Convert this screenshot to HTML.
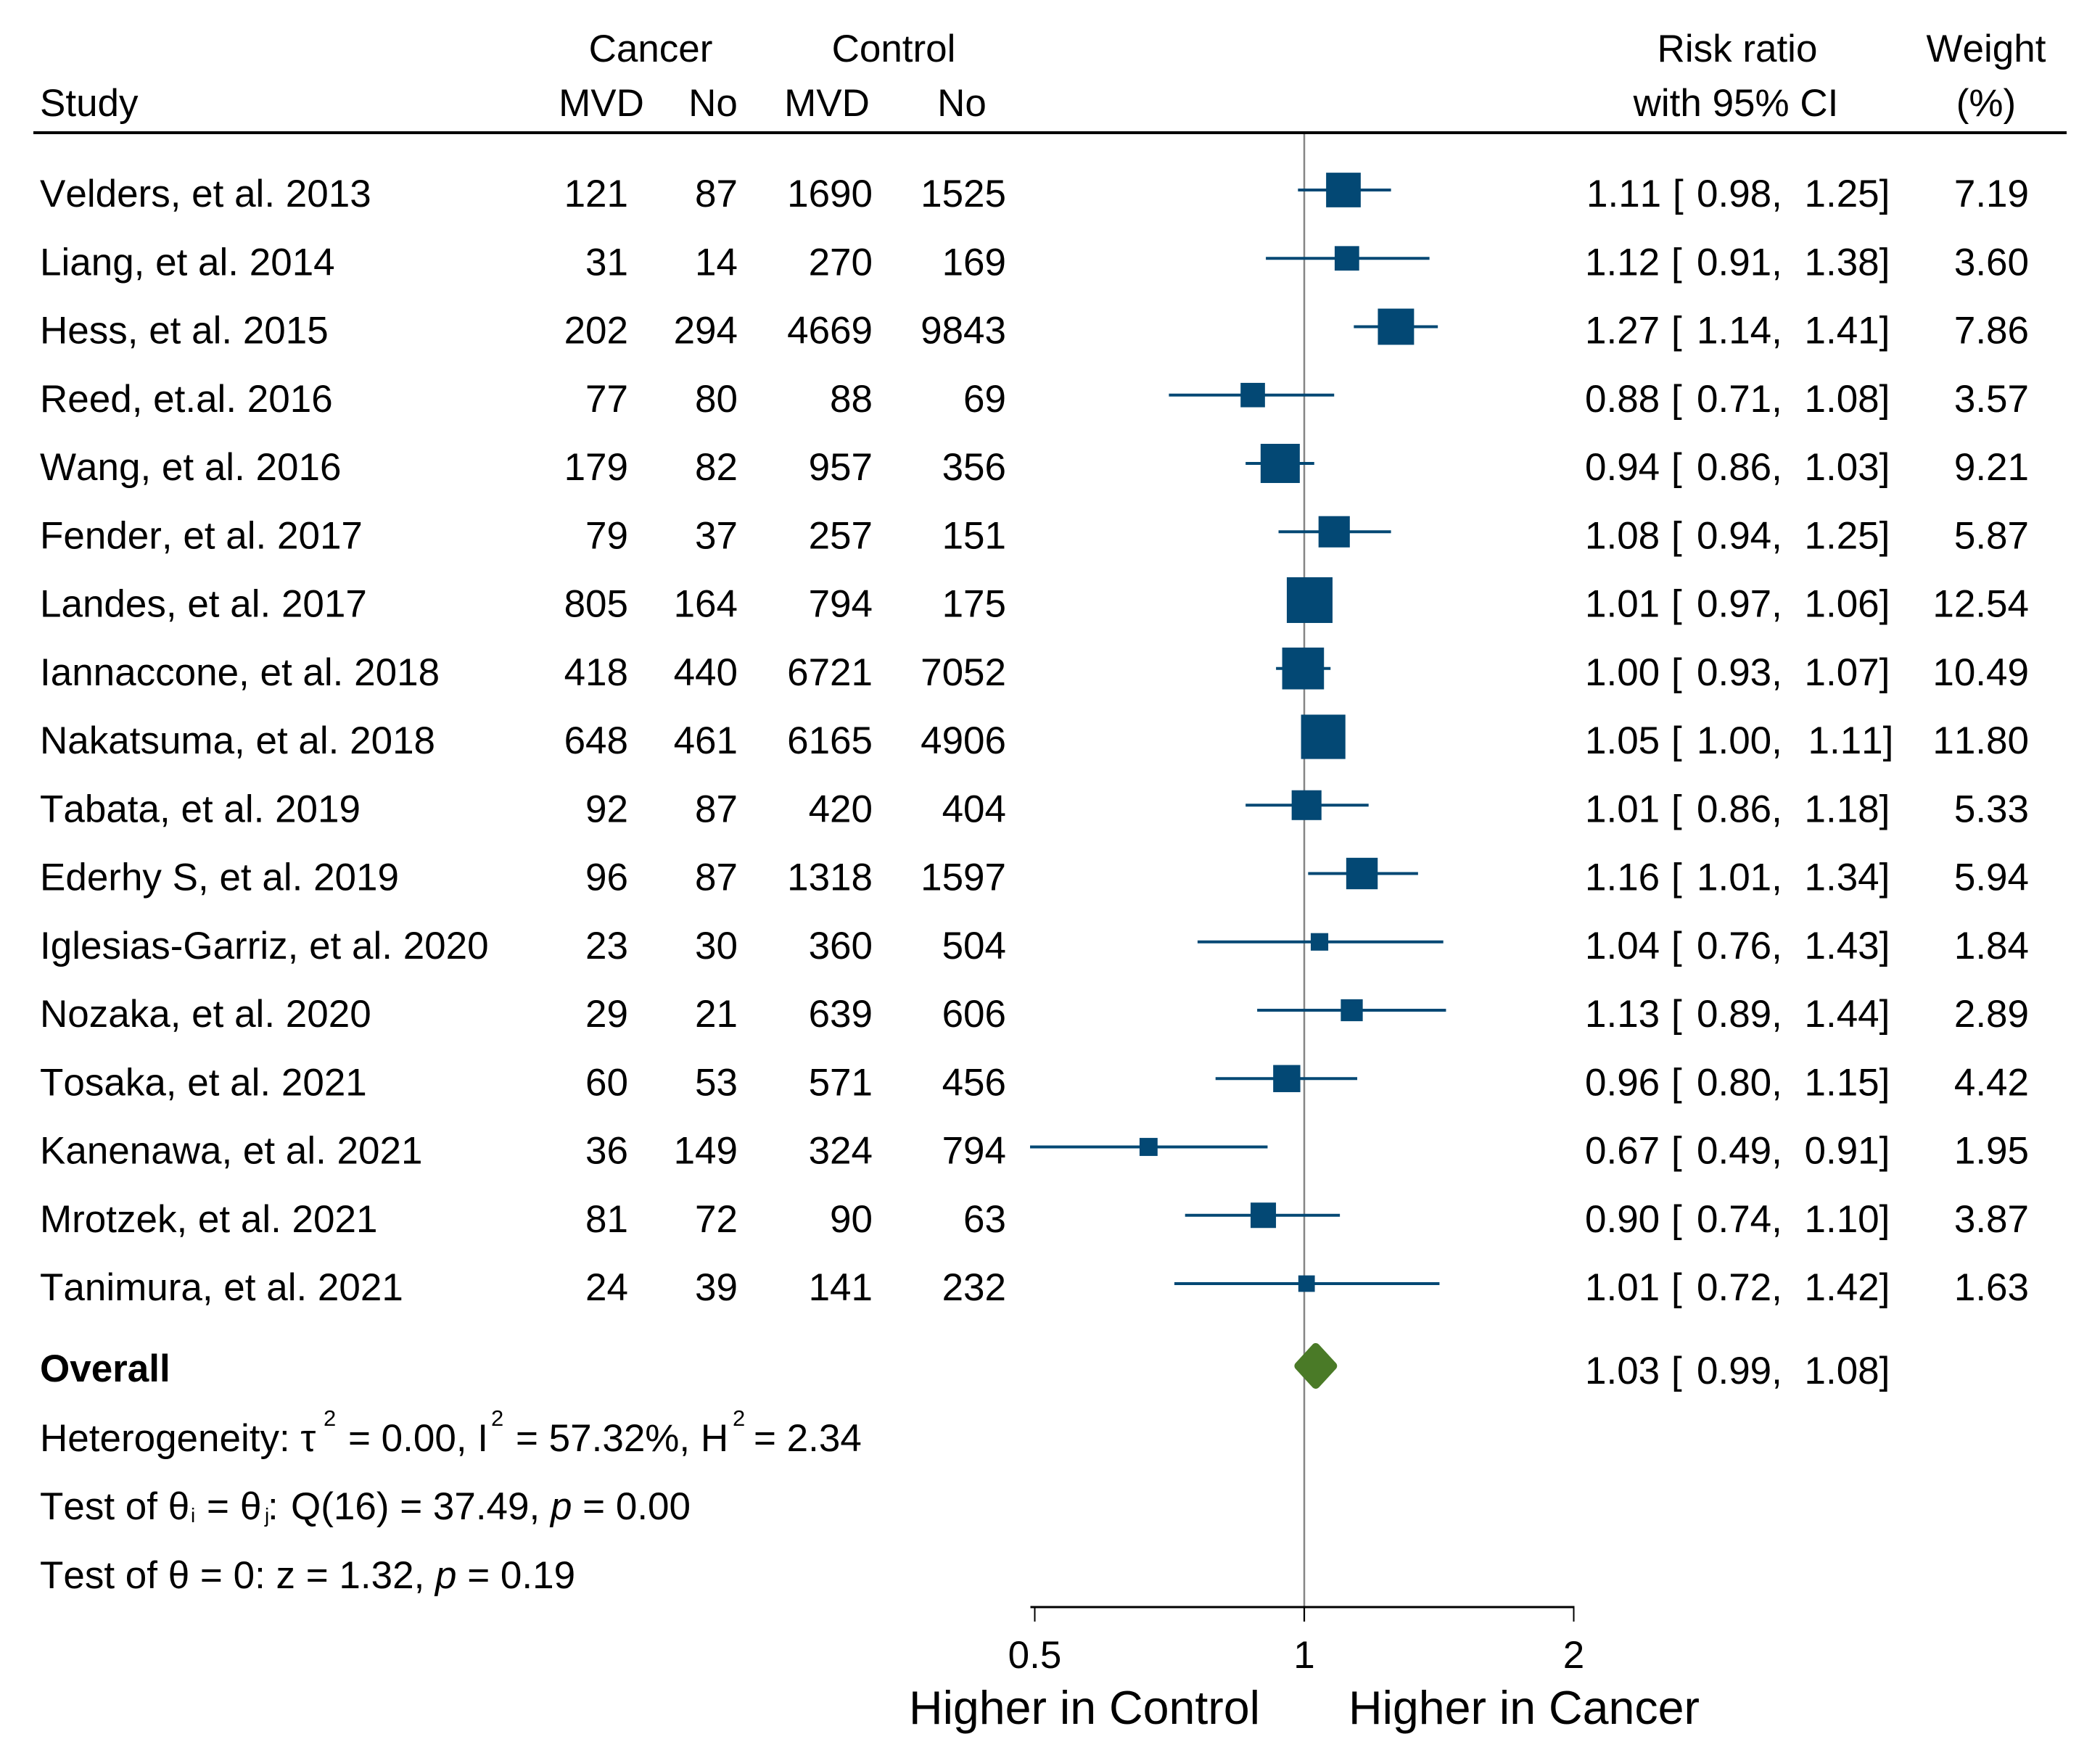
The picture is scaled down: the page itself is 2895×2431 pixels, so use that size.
<!DOCTYPE html>
<html lang="en">
<head>
<meta charset="utf-8">
<title>Forest plot: MVD in cancer vs control</title>
<style>
html,body{margin:0;padding:0;background:#fff;}
svg{display:block;}
text{font-family:"Liberation Sans",Arial,sans-serif;font-size:53px;fill:#000;white-space:pre;font-kerning:none;}
</style>
</head>
<body>
<svg id="forest" xmlns="http://www.w3.org/2000/svg" width="2895" height="2431" viewBox="0 0 2895 2431">
  <rect x="0" y="0" width="2895" height="2431" fill="#ffffff"/>
  <text x="897" y="85" text-anchor="middle">Cancer</text>
  <text x="1232" y="85" text-anchor="middle">Control</text>
  <text x="2395" y="85" text-anchor="middle">Risk ratio</text>
  <text x="2738" y="85" text-anchor="middle">Weight</text>
  <text x="55" y="160">Study</text>
  <text x="829" y="160" text-anchor="middle">MVD</text>
  <text x="983" y="160" text-anchor="middle">No</text>
  <text x="1140" y="160" text-anchor="middle">MVD</text>
  <text x="1326" y="160" text-anchor="middle">No</text>
  <text x="2393" y="160" text-anchor="middle">with 95% CI</text>
  <text x="2738" y="160" text-anchor="middle">(%)</text>
  <rect x="46" y="181" width="2803" height="4" fill="#000"/>
  <text x="55" y="1905" style="font-weight:700">Overall</text>
  <text y="2001"><tspan x="55">Heterogeneity: τ</tspan><tspan x="446" y="1966" style="font-size:31px">2</tspan><tspan x="480" y="2001">= 0.00, I</tspan><tspan x="677" y="1966" style="font-size:31px">2</tspan><tspan x="711" y="2001">= 57.32%, H</tspan><tspan x="1010" y="1966" style="font-size:31px">2</tspan><tspan x="1039" y="2001">= 2.34</tspan></text>
  <text y="2095"><tspan x="55">Test of θ</tspan><tspan x="263" y="2099" style="font-size:28px">i</tspan><tspan x="285" y="2095">=</tspan><tspan x="331" y="2095">θ</tspan><tspan x="365" y="2099" style="font-size:28px">j</tspan><tspan x="369" y="2095">:</tspan><tspan x="401" y="2095">Q(16) = 37.49, </tspan><tspan style="font-style:italic">p</tspan><tspan> = 0.00</tspan></text>
  <text y="2190" x="55">Test of θ = 0: z = 1.32, <tspan style="font-style:italic">p</tspan> = 0.19</text>
  <text x="1495" y="2377" text-anchor="middle" style="font-size:64.5px">Higher in Control</text>
  <text x="2101" y="2377" text-anchor="middle" style="font-size:64.5px">Higher in Cancer</text>
</svg>
<script>
const studies = ["Velders, et al. 2013","Liang, et al. 2014","Hess, et al. 2015","Reed, et.al. 2016","Wang, et al. 2016","Fender, et al. 2017","Landes, et al. 2017","Iannaccone, et al. 2018","Nakatsuma, et al. 2018","Tabata, et al. 2019","Ederhy S, et al. 2019","Iglesias-Garriz, et al. 2020","Nozaka, et al. 2020","Tosaka, et al. 2021","Kanenawa, et al. 2021","Mrotzek, et al. 2021","Tanimura, et al. 2021"];
const cancerMvd = [121,31,202,77,179,79,805,418,648,92,96,23,29,60,36,81,24];
const cancerNo = [87,14,294,80,82,37,164,440,461,87,87,30,21,53,149,72,39];
const controlMvd = [1690,270,4669,88,957,257,794,6721,6165,420,1318,360,639,571,324,90,141];
const controlNo = [1525,169,9843,69,356,151,175,7052,4906,404,1597,504,606,456,794,63,232];
const riskRatio = [1.106,1.116,1.266,0.876,0.94,1.08,1.014,0.997,1.05,1.006,1.16,1.04,1.13,0.956,0.67,0.90,1.006];
const ciLow = [0.984,0.906,1.136,0.706,0.86,0.936,0.97,0.93,1.00,0.86,1.01,0.76,0.886,0.796,0.494,0.736,0.716];
const ciHigh = [1.25,1.38,1.41,1.08,1.026,1.25,1.06,1.07,1.11,1.18,1.34,1.43,1.44,1.146,0.91,1.096,1.416];
const weights = [7.19,3.60,7.86,3.57,9.21,5.87,12.54,10.49,11.80,5.33,5.94,1.84,2.89,4.42,1.95,3.87,1.63];
const overallRatio = 1.03;
const overallLow = 0.986;
const overallHigh = 1.076;
const tickValues = [0.5,1,2];
const tickLabels = ["0.5","1","2"];

const NS = "http://www.w3.org/2000/svg";
const svg = document.getElementById("forest");
const BLUE = "#034874";
const GREEN = "#4a7a27";
function xScale(v){ return 1798 + 371.5 * Math.log2(v); }
function rowBaseline(i){ return 285 + 94.25 * i; }
function rowCenter(i){ return 262 + 94.25 * i; }
function boxSize(w){ return 17.8 * Math.sqrt(w); }
function make(tag, attrs, parent){
  const el = document.createElementNS(NS, tag);
  for (const k in attrs) el.setAttribute(k, attrs[k]);
  (parent || svg).appendChild(el);
  return el;
}
function label(x, y, str, anchor, name, parent){
  const el = make("text", {x: x, y: y, "text-anchor": anchor}, parent);
  el.textContent = str;
  
  
  return el;
}
function ciLabel(y, r, l, h, name, parent){
  const el = make("text", {y: y}, parent);
  
  
  const rs = r.toFixed(2), ls = l.toFixed(2), hs = h.toFixed(2);
  const pieces = [
    [rs === "1.11" ? 2187 : 2185, rs + " "],
    [rs === "1.11" ? 2306 : 2304, "[ "],
    [2339, ls + ",  "],
    [hs === "1.11" ? 2492.5 : 2487.5, hs + "]"]
  ];
  pieces.forEach(function(p){
    const t = make("tspan", {x: p[0]}, el);
    t.textContent = p[1];
  });
  return el;
}

// reference line (drawn first so marks sit on top)
const refLine = make("line", {x1: xScale(1), x2: xScale(1), y1: 185, y2: 2236, stroke: "#858585", "stroke-width": 2.5});



studies.forEach(function(name, i){
  const g = make("g", {});
  
  
  const by = rowBaseline(i), cy = rowCenter(i);
  label(55, by, name, "start", "study-name", g);
  label(866, by, String(cancerMvd[i]), "end", "cancer-mvd-count", g);
  label(1017, by, String(cancerNo[i]), "end", "cancer-no-count", g);
  label(1203, by, String(controlMvd[i]), "end", "control-mvd-count", g);
  label(1387, by, String(controlNo[i]), "end", "control-no-count", g);
  const ci = make("line", {x1: xScale(ciLow[i]), x2: xScale(ciHigh[i]), y1: cy, y2: cy, stroke: BLUE, "stroke-width": 4}, g);
  
  
  const s = boxSize(weights[i]);
  const box = make("rect", {x: xScale(riskRatio[i]) - s / 2, y: cy - s / 2, width: s, height: s, fill: BLUE}, g);
  
  
  ciLabel(by, riskRatio[i], ciLow[i], ciHigh[i], "risk-ratio-value", g);
  label(2797, by, weights[i].toFixed(2), "end", "weight-value", g);
});

// overall diamond
const dy = 1883.5;
const dl = xScale(overallLow), dh = xScale(overallHigh), dc = xScale(overallRatio);
const diamond = make("polygon", {points: dl + "," + dy + " " + dc + "," + (dy - 25.5) + " " + dh + "," + dy + " " + dc + "," + (dy + 25.5),
  fill: GREEN, stroke: GREEN, "stroke-width": 12, "stroke-linejoin": "round"});


ciLabel(1908, overallRatio, overallLow, overallHigh, "overall-risk-ratio-value");

// x axis
const axisLine = make("line", {x1: xScale(tickValues[0]) - 6, x2: xScale(tickValues[tickValues.length - 1]) + 1, y1: 2216, y2: 2216, stroke: "#000", "stroke-width": 3});


tickValues.forEach(function(v, i){
  const t = make("line", {x1: xScale(v), x2: xScale(v), y1: 2216, y2: 2236, stroke: "#000", "stroke-width": 2});
  
  
  label(xScale(v), 2300, tickLabels[i], "middle", "x-axis-tick-label");
});
</script>
</body>
</html>
